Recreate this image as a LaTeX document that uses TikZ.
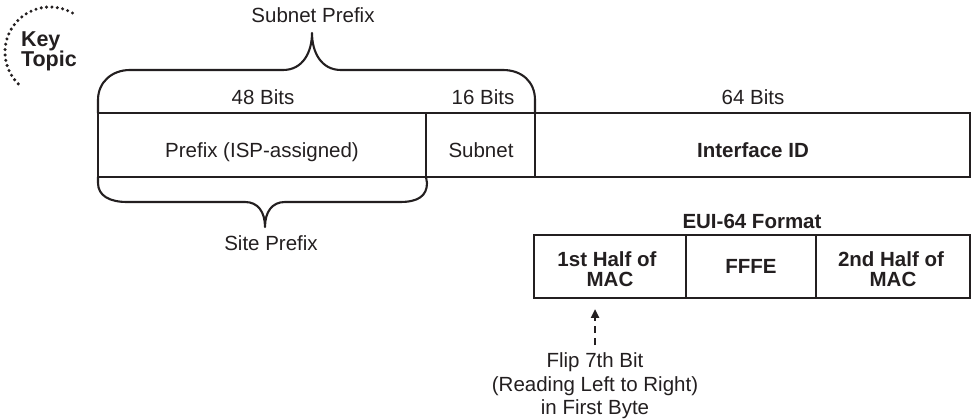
\documentclass[tikz,border=0pt]{standalone}
\usepackage{fontspec}
\setmainfont{Liberation Sans}
\usetikzlibrary{arrows.meta}
\definecolor{ink}{HTML}{231F20}
\begin{document}
\begin{tikzpicture}[x=1pt,y=-1pt,
  every node/.style={font=\fontsize{20.5}{24}\selectfont, inner sep=0pt, outer sep=0pt, text=ink},
  seg/.style={draw=ink, line width=2.3pt, anchor=north west},
  lbl/.style={anchor=base},
  boldlbl/.style={anchor=base, font=\fontsize{20.5}{24}\selectfont\bfseries},
  brace/.style={draw=ink, line width=2.1pt, line join=round, line cap=round},
  keydots/.style={draw=ink, line width=3.4pt, line cap=round, dash pattern=on 0pt off 5.4pt},
  flipline/.style={draw=ink, line width=2.5pt, dash pattern=on 7pt off 5pt, -{Triangle[length=9pt,width=8pt]}},
]
\useasboundingbox (0,0) rectangle (971,419);

% Key Topic
\draw[keydots] (50,52) ++(-60:45) arc[start angle=-60, end angle=-231, radius=45];
\node[anchor=base west, font=\fontsize{21.5}{24}\selectfont\bfseries] (key) at (21,47) {Key};
\node[anchor=base west, font=\fontsize{21.5}{24}\selectfont\bfseries] (topic) at (21,67) {Topic};

% main address box
\node[seg, minimum width=328pt, minimum height=64pt] (pre) at (98,113) {};
\node[seg, minimum width=109pt, minimum height=64pt] (sub) at (426,113) {};
\node[seg, minimum width=435pt, minimum height=64pt] (iid) at (535,113) {};

\node[lbl] (tpre) at (262,158) {Prefix (ISP-assigned)};
\node[lbl] (tsub) at (481,158) {Subnet};
\node[boldlbl] (tiid) at (753,158) {Interface ID};

\node[lbl] (b48) at (263,105) {48 Bits};
\node[lbl] (b16) at (483,105) {16 Bits};
\node[lbl] (b64) at (753,105) {64 Bits};

% subnet prefix brace
\draw[brace] (pre.north west) -- (98,100) .. controls (98,82) and (112,70) .. (130,70)
  -- (283,70) .. controls (303,70) and (312,52) .. (312,33)
  .. controls (312,52) and (321,70) .. (341,70)
  -- (503,70) .. controls (522,70) and (535,82) .. (535,100) -- (sub.north east);
\node[lbl] (subpre) at (313,23) {Subnet Prefix};

% site prefix brace
\draw[brace] (pre.south west) -- (98,183) .. controls (98,196) and (110,202) .. (127,202)
  -- (245,202) .. controls (258,202) and (265,212) .. (265,227)
  .. controls (265,212) and (272,202) .. (285,202)
  -- (400,202) .. controls (418,202) and (427,196) .. (427,183) -- (pre.south east);
\node[lbl] (sitepre) at (271,251) {Site Prefix};

% EUI-64
\node[boldlbl] (euit) at (752,229) {EUI-64 Format};
\node[seg, minimum width=152pt, minimum height=63pt] (eui1) at (534,235) {};
\node[seg, minimum width=130pt, minimum height=63pt] (eui2) at (686,235) {};
\node[seg, minimum width=154pt, minimum height=63pt] (eui3) at (816,235) {};

\node[boldlbl] (e1a) at (607,267) {1st Half of};
\node[boldlbl] (e1b) at (610,287) {MAC};
\node[boldlbl] (e2) at (751,274) {FFFE};
\node[boldlbl] (e3a) at (891,267) {2nd Half of};
\node[boldlbl] (e3b) at (893,287) {MAC};

% flip arrow
\coordinate (arrtail) at (595,345);
\coordinate (arrtip) at (595,309);
\draw[flipline] (arrtail) -- (arrtip);

\node[lbl] (f1) at (595,367) {Flip 7th Bit};
\node[lbl] (f2) at (595,391) {(Reading Left to Right)};
\node[lbl] (f3) at (595,414) {in First Byte};
\end{tikzpicture}
\end{document}
